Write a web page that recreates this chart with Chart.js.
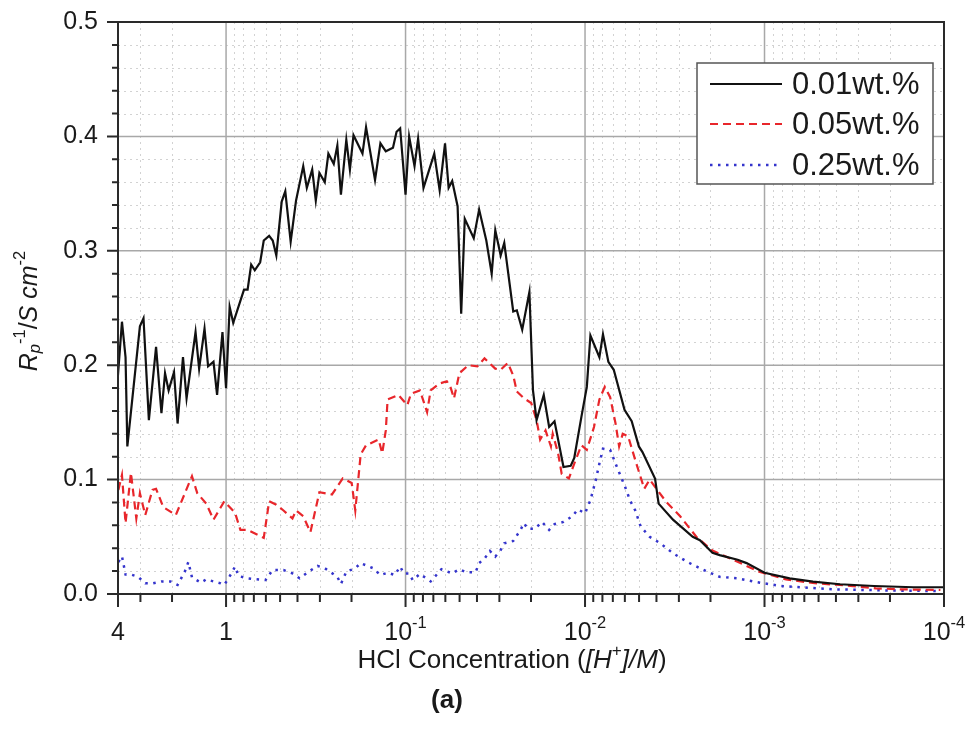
<!DOCTYPE html>
<html>
<head>
<meta charset="utf-8">
<script src="https://cdn.jsdelivr.net/npm/chart.js@4.4.1/dist/chart.umd.min.js"></script>
<style>
  body { margin: 0; background: #fff; }
  canvas { display: block; }
</style>
</head>
<body>
<canvas id="myChart" width="966" height="740"></canvas>
<script>
// series: x given as -log10[H+] (pH), y as Rp^-1 / S cm^-2
const seriesLabels = ['0.01wt.%', '0.05wt.%', '0.25wt.%'];

const ph001 = [-0.61, -0.58, -0.56, -0.55, -0.48, -0.46, -0.43, -0.39, -0.36, -0.34, -0.32, -0.29, -0.27, -0.24, -0.22,
  -0.17, -0.15, -0.12, -0.10, -0.07, -0.05, -0.02, 0.00, 0.02, 0.04, 0.10, 0.12, 0.14, 0.16, 0.19, 0.21, 0.24, 0.26, 0.28,
  0.31, 0.33, 0.36, 0.39, 0.43, 0.45, 0.48, 0.50, 0.52, 0.55, 0.57, 0.60, 0.62, 0.64, 0.67, 0.69, 0.71, 0.76, 0.78, 0.83,
  0.86, 0.89, 0.93, 0.95, 0.97, 1.00, 1.02, 1.05, 1.07, 1.10, 1.16, 1.19, 1.22, 1.24, 1.26, 1.29, 1.31, 1.33, 1.38, 1.41,
  1.45, 1.48, 1.50, 1.53, 1.55, 1.60, 1.62, 1.65, 1.69, 1.71, 1.73, 1.77, 1.80, 1.83, 1.88, 1.92, 1.94, 1.98, 2.01, 2.03,
  2.08, 2.10, 2.13, 2.16, 2.22, 2.26, 2.30, 2.32, 2.39, 2.41, 2.49, 2.60, 2.64, 2.71, 2.75, 2.85, 2.90, 3.00, 3.14, 3.27,
  3.42, 3.61, 3.83, 4.00];
const rp001 = [0.175, 0.238, 0.207, 0.129, 0.234, 0.241, 0.152, 0.216, 0.158, 0.193, 0.178, 0.194, 0.149, 0.207, 0.171,
  0.229, 0.197, 0.232, 0.199, 0.203, 0.174, 0.229, 0.180, 0.251, 0.237, 0.266, 0.266, 0.288, 0.283, 0.290, 0.309, 0.313, 0.309, 0.296,
  0.343, 0.352, 0.308, 0.344, 0.374, 0.355, 0.371, 0.344, 0.368, 0.360, 0.385, 0.376, 0.392, 0.349, 0.397, 0.371, 0.401, 0.385, 0.408, 0.362,
  0.394, 0.387, 0.390, 0.404, 0.407, 0.349, 0.400, 0.374, 0.398, 0.355, 0.385, 0.353, 0.394, 0.355, 0.361, 0.339, 0.245, 0.328, 0.311, 0.336,
  0.309, 0.280, 0.318, 0.296, 0.307, 0.247, 0.248, 0.231, 0.264, 0.178, 0.152, 0.174, 0.146, 0.151, 0.111, 0.112, 0.119, 0.155, 0.181, 0.226,
  0.207, 0.227, 0.203, 0.196, 0.161, 0.151, 0.129, 0.124, 0.101, 0.079, 0.065, 0.050, 0.047, 0.036, 0.034, 0.030, 0.027, 0.0186, 0.0137, 0.0108,
  0.0085, 0.0070, 0.0059, 0.0059];

const ph005 = [-0.60, -0.58, -0.56, -0.53, -0.50, -0.48, -0.45, -0.41, -0.39, -0.35, -0.28, -0.19, -0.16, -0.11, -0.07,
  -0.01, 0.05, 0.08, 0.12, 0.21, 0.24, 0.28, 0.32, 0.37, 0.39, 0.43, 0.47, 0.52, 0.59, 0.65, 0.70, 0.72, 0.75, 0.78, 0.85,
  0.87, 0.89, 0.90, 0.96, 1.01, 1.03, 1.08, 1.12, 1.14, 1.19, 1.23, 1.25, 1.27, 1.30, 1.35, 1.40, 1.44, 1.50, 1.53, 1.57,
  1.60, 1.62, 1.66, 1.70, 1.73, 1.75, 1.78, 1.81, 1.82, 1.85, 1.87, 1.91, 1.94, 1.98, 2.01, 2.05, 2.08, 2.11, 2.14, 2.17,
  2.19, 2.21, 2.24, 2.28, 2.33, 2.36, 2.45, 2.53, 2.62, 2.71, 2.81, 2.97, 3.12, 3.28, 3.42, 3.62, 3.75, 3.98];
const rp005 = [0.091, 0.104, 0.062, 0.106, 0.066, 0.088, 0.069, 0.091, 0.092, 0.076, 0.069, 0.103, 0.088, 0.079, 0.065,
  0.081, 0.071, 0.056, 0.056, 0.049, 0.081, 0.078, 0.073, 0.066, 0.073, 0.068, 0.054, 0.089, 0.087, 0.101, 0.097, 0.073, 0.122, 0.130, 0.135,
  0.123, 0.143, 0.170, 0.174, 0.165, 0.175, 0.178, 0.159, 0.178, 0.184, 0.186, 0.181, 0.171, 0.193, 0.200, 0.199, 0.206, 0.197, 0.196, 0.202,
  0.191, 0.177, 0.171, 0.167, 0.152, 0.135, 0.143, 0.129, 0.140, 0.123, 0.105, 0.101, 0.114, 0.130, 0.126, 0.146, 0.170, 0.181, 0.172, 0.149,
  0.129, 0.140, 0.138, 0.117, 0.092, 0.100, 0.081, 0.068, 0.050, 0.038, 0.031, 0.0195, 0.0128, 0.0094, 0.0079, 0.0050, 0.0041, 0.0035];

const ph025 = [-0.60, -0.58, -0.56, -0.53, -0.49, -0.45, -0.41, -0.36, -0.31, -0.27, -0.23, -0.21, -0.19, -0.14, -0.11,
  -0.07, -0.03, -0.01, 0.03, 0.05, 0.07, 0.12, 0.17, 0.22, 0.26, 0.32, 0.37, 0.41, 0.46, 0.51, 0.55, 0.62, 0.64, 0.67, 0.72,
  0.75, 0.82, 0.86, 0.90, 0.94, 0.97, 0.99, 1.02, 1.04, 1.08, 1.14, 1.20, 1.26, 1.30, 1.34, 1.39, 1.41, 1.44, 1.47, 1.50,
  1.53, 1.55, 1.60, 1.64, 1.66, 1.68, 1.72, 1.76, 1.80, 1.83, 1.88, 1.93, 1.96, 2.00, 2.03, 2.06, 2.08, 2.10, 2.14, 2.17,
  2.20, 2.23, 2.25, 2.28, 2.31, 2.36, 2.42, 2.49, 2.57, 2.66, 2.75, 2.85, 2.94, 3.09, 3.24, 3.38, 3.57, 3.75, 3.98];
const rp025 = [0.028, 0.033, 0.017, 0.017, 0.015, 0.0093, 0.0093, 0.011, 0.011, 0.0079, 0.0195, 0.028, 0.0146, 0.0099, 0.0128,
  0.011, 0.0093, 0.0079, 0.018, 0.024, 0.0157, 0.0137, 0.0128, 0.0122, 0.021, 0.021, 0.018, 0.0137, 0.0195, 0.0245, 0.0225, 0.015, 0.0087, 0.0195, 0.0225,
  0.027, 0.0225, 0.0166, 0.0186, 0.0166, 0.024, 0.018, 0.018, 0.0122, 0.0175, 0.011, 0.0216, 0.018, 0.0216, 0.019, 0.019, 0.027, 0.031, 0.0376, 0.0326,
  0.0385, 0.0443, 0.0463, 0.056, 0.062, 0.057, 0.057, 0.063, 0.056, 0.061, 0.063, 0.068, 0.074, 0.0705, 0.082, 0.0997, 0.114, 0.127, 0.126, 0.114,
  0.1025, 0.091, 0.082, 0.073, 0.059, 0.050, 0.0443, 0.0356, 0.028, 0.021, 0.015, 0.0137, 0.0108, 0.0070, 0.0055, 0.0041, 0.0035, 0.0029, 0.0026];

// axis ticks
const xMajor = [4, 1, 0.1, 0.01, 0.001, 0.0001];
const xTickBase = ['4', '1', '10', '10', '10', '10'];
const xTickExp = ['', '', '-1', '-2', '-3', '-4'];
const yMajor = [0, 0.1, 0.2, 0.3, 0.4, 0.5];

const FONT = "'Liberation Sans', Arial, sans-serif";

function toPoints(ph, rp) {
    return ph.map((p, i) => ({ x: Math.pow(10, -p), y: rp[i] }));
}

// draw a run of text pieces (normal / italic / sup / sub) starting at x
function drawPieces(c, pieces, x, y, size) {
    for (const p of pieces) {
        let sz = p.sup || p.sub ? size * 0.66 : size;
        c.font = (p.bold ? 'bold ' : '') + (p.it ? 'italic ' : '') + sz + 'px ' + FONT;
        let dy = p.sup ? -size * 0.38 : (p.sub ? size * 0.22 : 0);
        c.fillText(p.t, x, y + dy);
        x += c.measureText(p.t).width;
    }
    return x;
}
function piecesWidth(c, pieces, size) {
    let w = 0;
    for (const p of pieces) {
        let sz = p.sup || p.sub ? size * 0.66 : size;
        c.font = (p.bold ? 'bold ' : '') + (p.it ? 'italic ' : '') + sz + 'px ' + FONT;
        w += c.measureText(p.t).width;
    }
    return w;
}

const gridPlugin = {
    id: 'originFrame',
    beforeDatasetsDraw(chart) {
        const c = chart.ctx, a = chart.chartArea;
        const xs = chart.scales.x, ys = chart.scales.y;
        c.save();
        // minor grid, dotted
        c.strokeStyle = '#d2d2d2';
        c.lineWidth = 1;
        c.setLineDash([2, 4]);
        for (let d = 0.0001; d < 4; d *= 10) {
            for (let m = 2; m <= 9; m++) {
                const v = m * d;
                if (v >= 4) break;
                const px = Math.round(xs.getPixelForValue(v)) + 0.5;
                c.beginPath(); c.moveTo(px, a.top); c.lineTo(px, a.bottom); c.stroke();
            }
        }
        for (let k = 1; k < 25; k++) {
            if (k % 5 === 0) continue;
            const py = Math.round(ys.getPixelForValue(k * 0.02)) + 0.5;
            c.beginPath(); c.moveTo(a.left, py); c.lineTo(a.right, py); c.stroke();
        }
        // major grid, solid
        c.setLineDash([]);
        c.strokeStyle = '#a8a8a8';
        c.lineWidth = 1.5;
        xMajor.slice(1, -1).forEach(v => {
            const px = xs.getPixelForValue(v);
            c.beginPath(); c.moveTo(px, a.top); c.lineTo(px, a.bottom); c.stroke();
        });
        yMajor.slice(1, -1).forEach(v => {
            const py = ys.getPixelForValue(v);
            c.beginPath(); c.moveTo(a.left, py); c.lineTo(a.right, py); c.stroke();
        });
        c.restore();
    },
    afterDatasetsDraw(chart) {
        const c = chart.ctx, a = chart.chartArea;
        const xs = chart.scales.x, ys = chart.scales.y;
        c.save();
        c.strokeStyle = '#2a2a2a';
        c.fillStyle = '#1a1a1a';
        c.lineWidth = 2;
        c.strokeRect(a.left, a.top, a.right - a.left, a.bottom - a.top);

        // y ticks, outward
        c.beginPath();
        for (let k = 0; k <= 25; k++) {
            const py = ys.getPixelForValue(k * 0.02);
            const len = k % 5 === 0 ? 11 : 6;
            c.moveTo(a.left - len, py); c.lineTo(a.left, py);
        }
        // x ticks, outward
        xMajor.forEach(v => {
            const px = xs.getPixelForValue(v);
            c.moveTo(px, a.bottom); c.lineTo(px, a.bottom + 13);
        });
        for (let d = 0.0001; d < 4; d *= 10) {
            for (let m = 2; m <= 9; m++) {
                const v = m * d;
                if (v >= 4) break;
                const px = xs.getPixelForValue(v);
                c.moveTo(px, a.bottom); c.lineTo(px, a.bottom + 8);
            }
        }
        c.stroke();

        // x tick labels with superscripts
        c.textBaseline = 'middle';
        c.textAlign = 'left';
        xMajor.forEach((v, i) => {
            const pcs = [{ t: xTickBase[i] }];
            if (xTickExp[i]) pcs.push({ t: xTickExp[i], sup: true });
            const w = piecesWidth(c, pcs, 25);
            drawPieces(c, pcs, xs.getPixelForValue(v) - w / 2, 633, 25);
        });

        // x title
        const xt = [{ t: 'HCl Concentration (' }, { t: '[H', it: true }, { t: '+', sup: true }, { t: ']/M', it: true }, { t: ')' }];
        const xw = piecesWidth(c, xt, 26);
        drawPieces(c, xt, 512 - xw / 2, 661, 26);

        // panel tag
        c.font = 'bold 26px ' + FONT;
        c.textAlign = 'center';
        c.fillText('(a)', 447, 701);

        // y title, rotated
        c.save();
        c.translate(30, 311);
        c.rotate(-Math.PI / 2);
        c.textAlign = 'left';
        const yt = [{ t: 'R', it: true }, { t: 'p', it: true, sub: true }, { t: '-1', sup: true }, { t: '/' },
            { t: 'S', it: true }, { t: ' ' }, { t: 'cm', it: true }, { t: '-2', sup: true }];
        const yw = piecesWidth(c, yt, 25);
        drawPieces(c, yt, -yw / 2, 0, 25);
        c.restore();

        // legend box
        c.fillStyle = '#fff';
        c.fillRect(697, 63, 236, 121);
        c.strokeStyle = '#555';
        c.lineWidth = 1.5;
        c.strokeRect(697, 63, 236, 121);
        const rows = [84, 124, 165];
        chart.data.datasets.forEach((ds, i) => {
            c.strokeStyle = ds.borderColor;
            c.lineWidth = ds.borderWidth;
            c.setLineDash(ds.borderDash || []);
            c.beginPath(); c.moveTo(710, rows[i]); c.lineTo(782, rows[i]); c.stroke();
            c.setLineDash([]);
            c.fillStyle = '#1a1a1a';
            c.font = '31px ' + FONT;
            c.textAlign = 'left';
            c.fillText(ds.label, 792, rows[i] + 1);
        });
        c.restore();
    }
};

const ctx = document.getElementById('myChart').getContext('2d');
const config = {
    type: 'line',
    data: {
        datasets: [
            {
                label: seriesLabels[0],
                data: toPoints(ph001, rp001),
                borderColor: '#111111',
                borderWidth: 2.2,
            },
            {
                label: seriesLabels[1],
                data: toPoints(ph005, rp005),
                borderColor: '#e8262b',
                borderWidth: 2.2,
                borderDash: [8, 5],
            },
            {
                label: seriesLabels[2],
                data: toPoints(ph025, rp025),
                borderColor: '#3434cc',
                borderWidth: 2.5,
                borderDash: [2.5, 5.5],
            }
        ]
    },
    options: {
        responsive: false,
        animation: false,
        layout: { padding: { top: 22, right: 22, left: 0, bottom: 0 } },
        elements: { point: { radius: 0 }, line: { tension: 0 } },
        plugins: { legend: { display: false }, tooltip: { enabled: false } },
        scales: {
            x: {
                type: 'logarithmic',
                reverse: true,
                min: 0.0001,
                max: 4,
                grid: { display: false, drawTicks: false },
                border: { display: false },
                ticks: { display: false },
                afterFit: s => { s.height = 146; s.paddingLeft = 0; s.paddingRight = 0; },
            },
            y: {
                min: 0,
                max: 0.5,
                grid: { display: false, drawTicks: false },
                border: { display: false },
                ticks: {
                    stepSize: 0.1,
                    padding: 20,
                    color: '#1a1a1a',
                    font: { family: FONT, size: 25 },
                    callback: v => v.toFixed(1),
                },
                afterFit: s => { s.width = 118; s.paddingTop = 0; s.paddingBottom = 0; },
            }
        }
    },
    plugins: [gridPlugin]
};
const chart = new Chart(ctx, config);
</script>
</body>
</html>
